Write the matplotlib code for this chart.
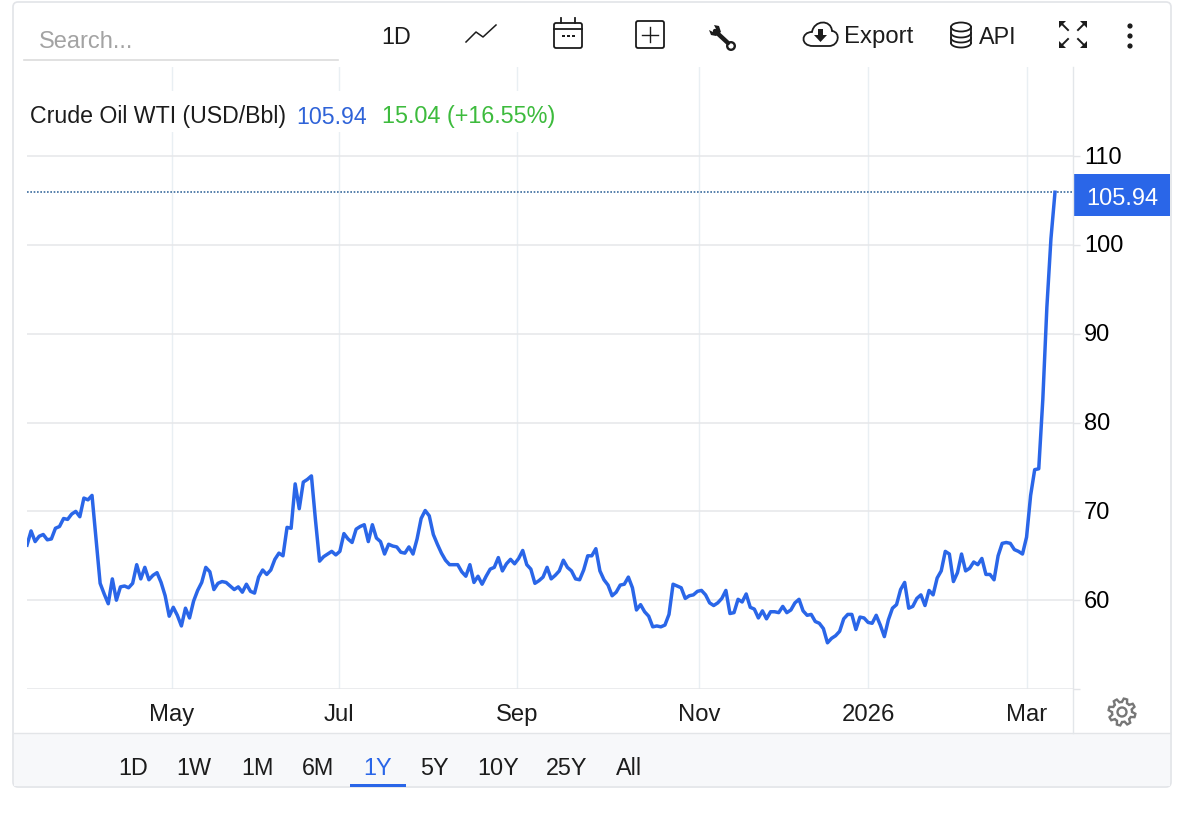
import numpy as np
import matplotlib
matplotlib.use('Agg')
import matplotlib.pyplot as plt
from matplotlib.patches import Rectangle, FancyBboxPatch, Circle, Ellipse, PathPatch, Polygon
from matplotlib.path import Path
from matplotlib.transforms import ScaledTranslation

plt.rcParams['font.family'] = ['Liberation Sans', 'DejaVu Sans']

# WTI closes, one trading day per value
wti_spring = [66.2, 67.8, 66.6, 67.2, 67.4, 66.8, 66.9, 68.1, 68.3, 69.2, 69.1, 69.7, 70.0, 69.4,
              71.5, 71.3, 71.8, 66.9, 61.9, 60.7, 59.6, 62.4, 60.0, 61.5, 61.6, 61.4, 61.9, 64.0,
              62.4, 63.7, 62.3, 62.8, 63.1, 62.0, 60.5, 58.2, 59.2, 58.3, 57.1, 59.1, 58.0, 59.9,
              61.1, 62.0, 63.7, 63.2, 61.2, 61.9, 62.1, 62.0, 61.6, 61.2, 61.5, 60.9, 61.8, 61.0,
              60.8, 62.6, 63.4, 62.9, 63.4, 64.6, 65.3, 65.0, 68.2, 68.1, 73.1, 70.3, 73.3, 73.6,
              74.0, 69.0, 64.4, 64.9, 65.2, 65.5, 65.1, 65.5, 67.5, 66.9, 66.5, 68.0, 68.3]
wti_summer = [68.5, 66.6, 68.5, 67.0, 66.6, 65.2, 66.3, 66.1, 66.0, 65.4, 65.3, 66.0, 65.2, 66.9,
              69.2, 70.1, 69.5, 67.4, 66.3, 65.3, 64.5, 64.0, 64.0, 64.0, 63.2, 62.7, 64.0, 62.0,
              62.7, 61.8, 62.7, 63.5, 63.7, 64.8, 63.3, 64.1, 64.6, 64.1, 64.7, 65.6, 64.0, 63.5,
              61.9, 62.2, 62.6, 63.7, 62.4, 62.8, 63.3, 64.5, 63.7, 63.3, 62.4, 62.3, 63.4, 65.0,
              65.0, 65.8, 63.3, 62.3, 61.7, 60.5, 60.9, 61.7, 61.8, 62.6, 61.4, 58.9, 59.5, 58.7,
              58.2, 57.0, 57.1, 57.0, 57.2, 58.4, 61.8, 61.6, 61.4, 60.2, 60.5, 60.6, 61.0, 61.1]
wti_winter = [60.6, 59.7, 59.4, 59.7, 60.2, 61.1, 58.5, 58.6, 60.1, 59.8, 60.7, 59.2, 59.0, 58.0,
              58.8, 57.9, 58.7, 58.7, 58.6, 59.3, 58.6, 58.9, 59.7, 60.1, 58.8, 58.3, 58.4, 57.6,
              57.4, 56.8, 55.2, 55.7, 56.0, 56.5, 57.9, 58.4, 58.4, 56.7, 58.1, 58.0, 57.5, 57.4,
              58.3, 57.2, 55.9, 57.8, 59.1, 59.5, 61.2, 62.0, 59.1, 59.3, 60.2, 60.6, 59.4, 61.1,
              60.6, 62.5, 63.3, 65.5, 65.2, 62.1, 63.1, 65.2, 63.3, 63.6, 64.3, 64.0, 64.7, 62.9,
              62.9, 62.3, 65.0, 66.4, 66.5, 66.4, 65.7, 65.5, 65.2, 67.1, 71.8, 74.7, 74.8]
wti_march = [82.6, 93.0, 100.7, 105.94]
wti = wti_spring + wti_summer + wti_winter + wti_march

month_pos = [35.7, 76.8, 120.6, 165.4, 207, 246.1]
month_labels = ['May', 'Jul', 'Sep', 'Nov', '2026', 'Mar']
price_ticks = [50, 60, 70, 80, 90, 100, 110]
price_labels = ['', '60', '70', '80', '90', '100', '110']
ranges = ['1D', '1W', '1M', '6M', '1Y', '5Y', '10Y', '25Y', 'All']
range_x = [133, 194, 257, 318, 378, 434, 498, 567, 629]

BLUE = '#2a66e8'
DARK = '#1c1c1c'
W, H = 1200, 820

fig = plt.figure(figsize=(12, 8.2), dpi=100, facecolor='white')

# page furniture lives on a full-size axes in pixel coordinates
bg = fig.add_axes([0, 0, 1, 1], zorder=0)
bg.set_xlim(0, W)
bg.set_ylim(H, 0)
bg.axis('off')

bg.add_patch(FancyBboxPatch((13, 3), 1158, 785, boxstyle='round,pad=0,rounding_size=5',
                            fc='white', ec='#e2e4e8', lw=1.2))
bg.add_patch(Rectangle((14, 734), 1156, 53, fc='#f7f8fa', ec='none'))
bg.plot([14, 1170], [734, 734], color='#e3e5e8', lw=1)
bg.plot([1073, 1073], [68, 734], color='#e3e6ea', lw=1)

# toolbar
bg.plot([24, 338], [60.5, 60.5], color='#dcdcdc', lw=1.2)
bg.text(39, 42, 'Search...', color='#a3a3a3', fontsize=17, va='center')
bg.text(396, 37, '1D', color=DARK, fontsize=16.8, va='center', ha='center')
bg.plot([466, 476, 483, 496], [43, 33, 38, 26], color=DARK, lw=1.1)

# calendar
bg.add_patch(FancyBboxPatch((554, 24), 28, 25, boxstyle='round,pad=0,rounding_size=2', fc='white', ec=DARK, lw=1.3))
bg.plot([554, 582], [30, 30], color=DARK, lw=1.3)
for cx in (561, 575):
    bg.plot([cx, cx], [19, 24], color=DARK, lw=1.3)
for cx in (563, 568, 573):
    bg.add_patch(Rectangle((cx - 1.3, 35.5), 2.8, 2.8, fc=DARK, ec='none'))

# plus box
bg.add_patch(FancyBboxPatch((636, 22), 28, 27, boxstyle='round,pad=0,rounding_size=2', fc='white', ec=DARK, lw=1.3))
bg.plot([650, 650], [28, 43], color=DARK, lw=1)
bg.plot([642, 658], [35.5, 35.5], color=DARK, lw=1)

# wrench
bg.plot([715, 728], [32, 44], color=DARK, lw=3.2, solid_capstyle='round')
bg.add_patch(Polygon([[709, 31], [713, 33], [716, 30], [714, 26], [719, 27], [721, 33], [716, 37], [711, 36]], fc=DARK, ec='none'))
bg.add_patch(Circle((731, 47), 3.8, fc='white', ec=DARK, lw=1.7))

# cloud + export
cloud = Path([(813, 47), (800, 47), (801, 33), (812, 33), (814, 21), (831, 20), (832, 32),
              (841, 33), (839, 47), (829, 47), (813, 47)],
             [Path.MOVETO, Path.CURVE4, Path.CURVE4, Path.CURVE4, Path.CURVE4, Path.CURVE4, Path.CURVE4,
              Path.CURVE4, Path.CURVE4, Path.CURVE4, Path.LINETO])
bg.add_patch(PathPatch(cloud, fc='white', ec=DARK, lw=1.3))
bg.add_patch(Polygon([[818, 30], [823, 30], [823, 36], [827, 36], [820.5, 43], [814, 36], [818, 36]], fc=DARK, ec='none'))
bg.text(844, 37, 'Export', color=DARK, fontsize=17.2, va='center')

# database + api
bg.plot([951, 951], [28, 44], color=DARK, lw=1.3)
bg.plot([971, 971], [28, 44], color=DARK, lw=1.3)
for cy in (34, 39, 44):
    t = np.linspace(0, np.pi, 30)
    bg.plot(961 + 10 * np.cos(t), cy + 4.5 * np.sin(t), color=DARK, lw=1.3)
bg.add_patch(Ellipse((961, 28), 20, 9, fc='white', ec=DARK, lw=1.3))
bg.text(979, 37, 'API', color=DARK, fontsize=16.8, va='center')

# fullscreen arrows
for cx, cy, sx, sy in [(1059, 22, 1, 1), (1087, 22, -1, 1), (1059, 49, 1, -1), (1087, 49, -1, -1)]:
    bg.add_patch(Polygon([[cx, cy], [cx + 7 * sx, cy], [cx, cy + 7 * sy]], fc=DARK, ec='none'))
    bg.plot([cx + 2 * sx, cx + 9 * sx], [cy + 2 * sy, cy + 9 * sy], color=DARK, lw=1.4)

for cy in (27, 37, 47):
    bg.add_patch(Circle((1130, cy), 2.6, fc=DARK, ec='none'))

# price flag
bg.add_patch(Rectangle((1074, 175), 96, 42, fc=BLUE, ec='none'))
bg.text(1122, 199, '105.94', color='white', fontsize=17, va='center', ha='center')

# gear
ang = np.linspace(0, 2 * np.pi, 8 * 6, endpoint=False)
rad = np.where(np.arange(48) % 6 < 3, 13.5, 10)
bg.add_patch(Polygon(np.c_[1122 + rad * np.cos(ang + 0.13), 713 + rad * np.sin(ang + 0.13)], fc='white', ec='#777777', lw=1.7))
bg.add_patch(Circle((1122, 713), 4.5, fc='white', ec='#777777', lw=1.7))

# range buttons
for name, rx in zip(ranges, range_x):
    bg.text(rx, 769, name, color=BLUE if name == '1Y' else DARK, fontsize=16.8, ha='center', va='center')
bg.add_patch(Rectangle((350, 785), 56, 3, fc=BLUE, ec='none'))

# the chart
L, R, T, B = 27, 1073, 68, 690
ax = fig.add_axes([L / W, 1 - B / H, (R - L) / W, (B - T) / H], zorder=1)
ax.patch.set_alpha(0)
n = len(wti)
xs = np.arange(n)
ax.set_xlim(0, (n - 1) * (R - L) / 1028)
ax.set_ylim(50, 50 + (B - T) / 8.88)

ax.yaxis.tick_right()
ax.set_yticks(price_ticks)
ax.set_yticklabels(price_labels, fontsize=17, color='black')
ax.set_xticks(month_pos)
ax.set_xticklabels(month_labels, fontsize=17.2, color=DARK)
ax.tick_params(axis='y', length=5, width=1, color='#e3e5e8', pad=3)
ax.tick_params(axis='x', length=0, pad=10)
ax.grid(True, axis='y', color='#e6e7e9', lw=1.1)
ax.grid(True, axis='x', color='#e9eff3', lw=1)
ax.set_axisbelow(True)
for s in ax.spines.values():
    s.set_visible(False)

# nudge the price labels up a touch
for lab in ax.get_yticklabels():
    lab.set_transform(lab.get_transform() + ScaledTranslation(0, 0.02, fig.dpi_scale_trans))

ax.axhline(wti[-1], color='#3b6c9e', lw=1.2, ls=(0, (1, 1)))
ax.plot(xs, wti, color=BLUE, lw=2.5, solid_joinstyle='round')

# header readout sits on a white band that hides the vertical grid
top = fig.add_axes([0, 0, 1, 1], zorder=2)
top.set_xlim(0, W)
top.set_ylim(H, 0)
top.axis('off')
top.add_patch(Rectangle((27, 92), 535, 41, fc='white', ec='none'))
top.text(30, 117, 'Crude Oil WTI (USD/Bbl)', color=DARK, fontsize=16.7, va='center')
top.text(296, 117, '105.94', color='#2f63d8', fontsize=16.7, va='center')
top.text(382, 117, '15.04 (+16.55%)', color='#3dbb3d', fontsize=16.8, va='center')

fig.savefig('out.png', dpi=100)
